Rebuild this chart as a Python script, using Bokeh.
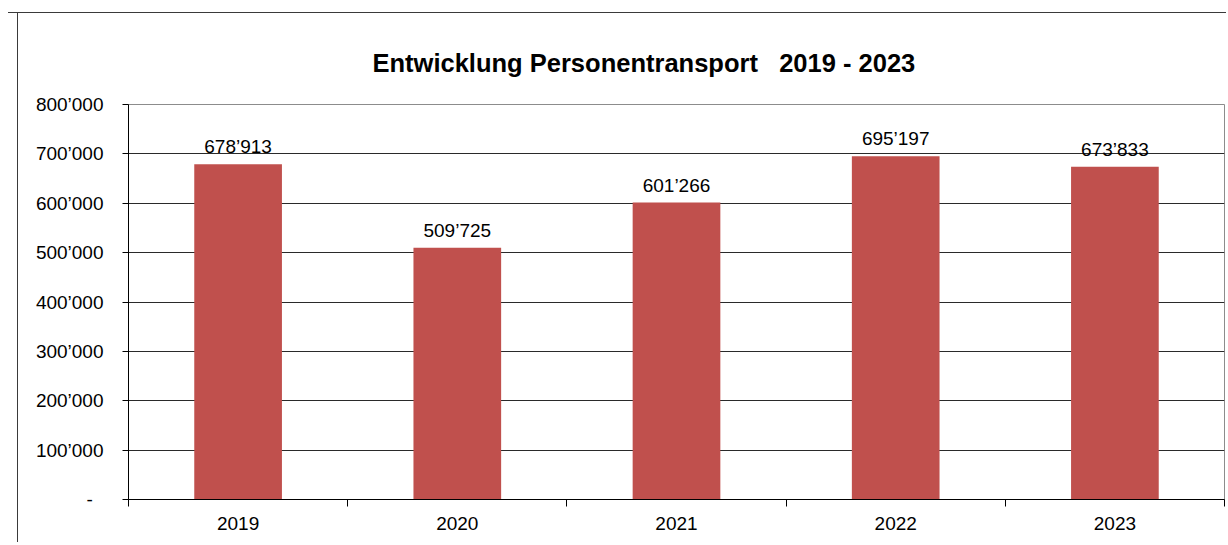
from bokeh.plotting import figure
from bokeh.models import ColumnDataSource, FixedTicker, Range1d, LabelSet, Title
from bokeh.core.properties import value
from bokeh.embed import file_html
from bokeh.resources import INLINE

# ---- data ----
years = ["2019", "2020", "2021", "2022", "2023"]
passengers = [678913, 509725, 601266, 695197, 673833]
y_ticks = [0, 100000, 200000, 300000, 400000, 500000, 600000, 700000, 800000]
y_tick_labels = ["-\u00a0\u00a0", "100’000", "200’000", "300’000", "400’000",
                 "500’000", "600’000", "700’000", "800’000"]
title_text = "Entwicklung Personentransport \u00a0 2019 - 2023"

FONT = "Liberation Sans"
BAR = "#C0504D"

xpos = [i + 0.5 for i in range(len(years))]
labels = [f"{v:,}".replace(",", "’") for v in passengers]
src = ColumnDataSource(dict(x=xpos, top=passengers, label=labels))

p = figure(width=1218, height=530, x_range=Range1d(0, len(years)), y_range=Range1d(0, 800000),
           output_backend="svg", toolbar_location=None,
           min_border_left=120, min_border_right=2, min_border_top=91, min_border_bottom=44)
p.margin = (12, 0, -40, 8)
p.border_fill_color = None
p.background_fill_color = "white"
p.styles = {"border-top": "1px solid #3a3a3a",
            "background": "linear-gradient(#3a3a3a, #3a3a3a) 9px 0 / 1px 100% no-repeat"}

p.add_layout(Title(text=title_text, align="left", offset=244, standoff=56,
                   text_font=FONT, text_font_size="25.5px", text_font_style="bold",
                   text_color="black"), "above")

p.vbar(x="x", top="top", width=0.4, bottom=0, source=src, color=BAR, line_color=None)

p.add_layout(LabelSet(x="x", y="top", text="label", source=src, text_align="center",
                      text_baseline="alphabetic", y_offset=11, text_font=value(FONT),
                      text_font_size=value("19px"), text_color="black"))

# y axis
p.yaxis.ticker = FixedTicker(ticks=y_ticks, minor_ticks=[])
p.yaxis.major_label_overrides = {t: l for t, l in zip(y_ticks, y_tick_labels)}
p.yaxis.major_tick_out = 6
p.yaxis.major_tick_in = 0
p.yaxis.major_label_standoff = 19
p.yaxis.major_label_text_font = FONT
p.yaxis.major_label_text_font_size = "19px"
p.yaxis.major_label_text_color = "black"
p.yaxis.axis_line_color = "black"
p.yaxis.major_tick_line_color = "black"

# x axis
p.xaxis.ticker = FixedTicker(ticks=xpos, minor_ticks=list(range(len(years) + 1)))
p.xaxis.major_label_overrides = {x: y for x, y in zip(xpos, years)}
p.xaxis.major_tick_out = 0
p.xaxis.major_tick_in = 0
p.xaxis.minor_tick_out = 7
p.xaxis.minor_tick_in = 0
p.xaxis.minor_tick_line_color = "black"
p.xaxis.major_label_standoff = 10
p.xaxis.major_label_text_font = FONT
p.xaxis.major_label_text_font_size = "19px"
p.xaxis.major_label_text_color = "black"
p.xaxis.axis_line_color = "black"

p.xgrid.visible = False
p.ygrid.grid_line_color = "#2a2a2a"
p.ygrid.grid_line_width = 1
p.outline_line_color = "#8c8c8c"
p.outline_line_width = 1

open("out.html", "w").write(file_html(p, INLINE))
